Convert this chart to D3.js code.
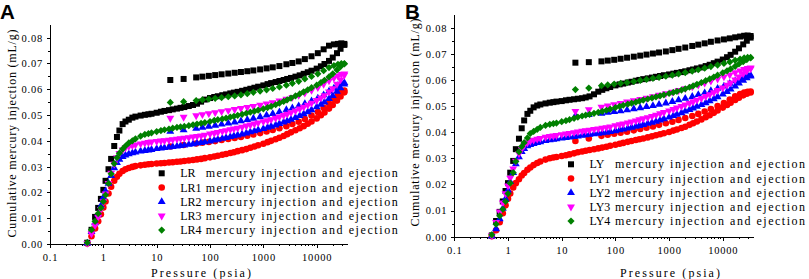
<!DOCTYPE html>
<html>
<head>
<meta charset="utf-8">
<title>Cumulative mercury injection</title>
<script src="https://cdn.jsdelivr.net/npm/d3@7/dist/d3.min.js"></script>
<style>
  body { margin: 0; background: #fff; }
  svg { display: block; }
  .axis path, .axis line { stroke: #000; stroke-width: 1; shape-rendering: crispEdges; }
  .axis text { font-family: "Liberation Serif", "DejaVu Serif", serif; font-size: 10.5px; letter-spacing: 0.8px; fill: #000; }
  .title { font-family: "Liberation Serif", "DejaVu Serif", serif; font-size: 12px; fill: #000; }
  .legend text { font-family: "Liberation Serif", "DejaVu Serif", serif; font-size: 12px; fill: #000; }
  .panel-label { font-family: "Liberation Sans", Arial, sans-serif; font-weight: bold; font-size: 20.5px; fill: #000; }
</style>
</head>
<body>
<script>
// pressure steps (psia) shared by all samples
var pInj = [0.5, 0.6, 0.7, 0.8, 0.9, 1.0, 1.1, 1.25, 1.4, 1.6,
            1.8, 2.0, 2.3, 2.6, 3.0, 3.5, 4, 5, 6, 7,
            8, 10, 12, 14, 17, 20, 24, 28, 33, 40,
            48, 57, 68, 80, 100, 120, 140, 170, 200, 240,
            280, 330, 400, 480, 570, 680, 800, 1000, 1200, 1400,
            1700, 2000, 2400, 2800, 3300, 4000, 4800, 5700, 6800, 8000,
            10000, 12000, 14000, 17000, 20000, 24000, 28000, 33000];
var pEj = [33000, 29000, 25000, 21000, 17000, 13500, 10500, 8000, 6000, 4600,
           3500, 2700, 2000, 1500, 1150, 870, 650, 500, 380, 290,
           220, 165, 125, 95, 72, 55, 32, 18];

// panel A - injection (mL/g)
var injLR = [0.0005, 0.0055, 0.0105, 0.0140, 0.0175, 0.0210, 0.0245, 0.0290, 0.0330, 0.0380,
             0.0415, 0.0440, 0.0465, 0.0475, 0.0482, 0.0490, 0.0494, 0.0498, 0.0501, 0.0503,
             0.0505, 0.0509, 0.0513, 0.0516, 0.0519, 0.0522, 0.0525, 0.0528, 0.0531, 0.0535,
             0.0539, 0.0544, 0.0552, 0.0560, 0.0566, 0.0570, 0.0573, 0.0577, 0.0580, 0.0584,
             0.0587, 0.0590, 0.0594, 0.0598, 0.0602, 0.0606, 0.0610, 0.0615, 0.0620, 0.0624,
             0.0628, 0.0632, 0.0636, 0.0640, 0.0644, 0.0649, 0.0654, 0.0660, 0.0666, 0.0672,
             0.0680, 0.0689, 0.0698, 0.0710, 0.0723, 0.0740, 0.0757, 0.0772];
var injLR1 = [0.0002, 0.0030, 0.0060, 0.0088, 0.0115, 0.0142, 0.0165, 0.0196, 0.0222, 0.0245,
              0.0261, 0.0272, 0.0283, 0.0290, 0.0295, 0.0299, 0.0302, 0.0305, 0.0307, 0.0309,
              0.0310, 0.0312, 0.0313, 0.0314, 0.0316, 0.0317, 0.0319, 0.0320, 0.0322, 0.0324,
              0.0326, 0.0328, 0.0330, 0.0333, 0.0336, 0.0339, 0.0342, 0.0346, 0.0349, 0.0353,
              0.0356, 0.0360, 0.0364, 0.0368, 0.0373, 0.0378, 0.0383, 0.0389, 0.0395, 0.0400,
              0.0406, 0.0412, 0.0419, 0.0426, 0.0433, 0.0441, 0.0449, 0.0457, 0.0466, 0.0475,
              0.0487, 0.0499, 0.0510, 0.0525, 0.0539, 0.0556, 0.0572, 0.0588];
var injLR2 = [0.0003, 0.0048, 0.0082, 0.0115, 0.0148, 0.0180, 0.0205, 0.0235, 0.0265, 0.0295,
              0.0315, 0.0328, 0.0338, 0.0344, 0.0349, 0.0353, 0.0356, 0.0360, 0.0362, 0.0364,
              0.0366, 0.0369, 0.0371, 0.0373, 0.0375, 0.0377, 0.0379, 0.0381, 0.0383, 0.0386,
              0.0388, 0.0391, 0.0393, 0.0396, 0.0399, 0.0402, 0.0405, 0.0409, 0.0412, 0.0416,
              0.0419, 0.0422, 0.0426, 0.0430, 0.0434, 0.0438, 0.0442, 0.0447, 0.0452, 0.0456,
              0.0461, 0.0466, 0.0472, 0.0477, 0.0483, 0.0490, 0.0497, 0.0504, 0.0512, 0.0520,
              0.0531, 0.0541, 0.0550, 0.0563, 0.0575, 0.0591, 0.0605, 0.0620];
var injLR3 = [0.0003, 0.0040, 0.0072, 0.0105, 0.0135, 0.0165, 0.0195, 0.0235, 0.0275, 0.0310,
              0.0335, 0.0352, 0.0365, 0.0373, 0.0378, 0.0382, 0.0385, 0.0389, 0.0392, 0.0394,
              0.0396, 0.0398, 0.0400, 0.0401, 0.0403, 0.0405, 0.0407, 0.0409, 0.0411, 0.0413,
              0.0416, 0.0418, 0.0420, 0.0423, 0.0427, 0.0430, 0.0433, 0.0437, 0.0440, 0.0444,
              0.0447, 0.0450, 0.0454, 0.0458, 0.0462, 0.0466, 0.0470, 0.0475, 0.0479, 0.0483,
              0.0488, 0.0493, 0.0499, 0.0504, 0.0510, 0.0517, 0.0524, 0.0531, 0.0539, 0.0547,
              0.0557, 0.0567, 0.0576, 0.0590, 0.0603, 0.0620, 0.0637, 0.0655];
var injLR4 = [0.0005, 0.0055, 0.0088, 0.0118, 0.0140, 0.0165, 0.0190, 0.0235, 0.0272, 0.0312,
              0.0335, 0.0352, 0.0368, 0.0380, 0.0392, 0.0400, 0.0408, 0.0418, 0.0425, 0.0428,
              0.0431, 0.0436, 0.0440, 0.0443, 0.0446, 0.0449, 0.0452, 0.0454, 0.0456, 0.0459,
              0.0462, 0.0465, 0.0468, 0.0471, 0.0475, 0.0479, 0.0482, 0.0485, 0.0488, 0.0492,
              0.0495, 0.0499, 0.0503, 0.0507, 0.0511, 0.0515, 0.0519, 0.0524, 0.0529, 0.0534,
              0.0540, 0.0546, 0.0553, 0.0559, 0.0566, 0.0574, 0.0582, 0.0590, 0.0598, 0.0606,
              0.0616, 0.0626, 0.0635, 0.0648, 0.0660, 0.0675, 0.0688, 0.0698];

// panel A - ejection (mL/g), high pressure first
var ejLR = [0.0776, 0.0778, 0.0776, 0.0774, 0.0769, 0.0755, 0.0740, 0.0728, 0.0717, 0.0708,
            0.0702, 0.0697, 0.0690, 0.0685, 0.0681, 0.0677, 0.0673, 0.0670, 0.0667, 0.0664,
            0.0661, 0.0658, 0.0655, 0.0652, 0.0649, 0.0646, 0.0640, 0.0636];
var ejLR1 = [0.0595, 0.0590, 0.0578, 0.0562, 0.0545, 0.0528, 0.0512, 0.0498, 0.0485, 0.0474,
             0.0465, 0.0457, 0.0449, 0.0442, 0.0436, 0.0430, 0.0425, 0.0420, 0.0415, 0.0411,
             0.0407, 0.0403, 0.0399, 0.0396, 0.0393, 0.0390, 0.0384, 0.0378];
var ejLR2 = [0.0625, 0.0622, 0.0614, 0.0604, 0.0592, 0.0578, 0.0565, 0.0554, 0.0544, 0.0535,
             0.0527, 0.0520, 0.0512, 0.0505, 0.0499, 0.0493, 0.0487, 0.0482, 0.0477, 0.0472,
             0.0468, 0.0464, 0.0460, 0.0456, 0.0452, 0.0448, 0.0442, 0.0436];
var ejLR3 = [0.0660, 0.0658, 0.0652, 0.0644, 0.0633, 0.0620, 0.0607, 0.0596, 0.0586, 0.0577,
             0.0569, 0.0562, 0.0555, 0.0549, 0.0544, 0.0539, 0.0534, 0.0530, 0.0526, 0.0522,
             0.0518, 0.0514, 0.0510, 0.0506, 0.0502, 0.0498, 0.0492, 0.0488];
var ejLR4 = [0.0700, 0.0700, 0.0697, 0.0692, 0.0684, 0.0672, 0.0660, 0.0650, 0.0640, 0.0631,
             0.0623, 0.0616, 0.0609, 0.0603, 0.0598, 0.0593, 0.0588, 0.0583, 0.0578, 0.0574,
             0.0571, 0.0568, 0.0565, 0.0562, 0.0559, 0.0556, 0.0552, 0.0549];

// panel B - injection (mL/g)
var injLY = [0.0005, 0.0060, 0.0095, 0.0135, 0.0175, 0.0205, 0.0245, 0.0290, 0.0335, 0.0375,
             0.0415, 0.0445, 0.0470, 0.0482, 0.0495, 0.0502, 0.0506, 0.0510, 0.0513, 0.0515,
             0.0517, 0.0519, 0.0522, 0.0524, 0.0526, 0.0528, 0.0530, 0.0533, 0.0537, 0.0545,
             0.0555, 0.0562, 0.0568, 0.0573, 0.0579, 0.0583, 0.0586, 0.0590, 0.0593, 0.0597,
             0.0600, 0.0603, 0.0606, 0.0609, 0.0612, 0.0615, 0.0618, 0.0621, 0.0624, 0.0627,
             0.0630, 0.0633, 0.0637, 0.0640, 0.0644, 0.0648, 0.0653, 0.0658, 0.0664, 0.0670,
             0.0678, 0.0687, 0.0696, 0.0708, 0.0721, 0.0736, 0.0750, 0.0762];
var injLY1 = [0.0002, 0.0025, 0.0055, 0.0090, 0.0120, 0.0145, 0.0165, 0.0188, 0.0205, 0.0220,
              0.0234, 0.0244, 0.0256, 0.0265, 0.0274, 0.0282, 0.0288, 0.0295, 0.0300, 0.0303,
              0.0305, 0.0309, 0.0312, 0.0315, 0.0319, 0.0323, 0.0326, 0.0329, 0.0332, 0.0335,
              0.0338, 0.0341, 0.0344, 0.0348, 0.0352, 0.0356, 0.0359, 0.0363, 0.0366, 0.0370,
              0.0373, 0.0376, 0.0380, 0.0384, 0.0388, 0.0392, 0.0396, 0.0401, 0.0406, 0.0410,
              0.0416, 0.0421, 0.0428, 0.0434, 0.0441, 0.0449, 0.0457, 0.0465, 0.0474, 0.0483,
              0.0494, 0.0504, 0.0513, 0.0523, 0.0532, 0.0541, 0.0547, 0.0552];
var injLY2 = [0.0002, 0.0030, 0.0068, 0.0108, 0.0145, 0.0178, 0.0210, 0.0245, 0.0278, 0.0305,
              0.0325, 0.0337, 0.0347, 0.0352, 0.0356, 0.0360, 0.0363, 0.0367, 0.0370, 0.0372,
              0.0374, 0.0377, 0.0379, 0.0381, 0.0383, 0.0385, 0.0387, 0.0389, 0.0391, 0.0393,
              0.0395, 0.0397, 0.0399, 0.0402, 0.0405, 0.0408, 0.0411, 0.0415, 0.0418, 0.0422,
              0.0425, 0.0429, 0.0433, 0.0437, 0.0441, 0.0446, 0.0451, 0.0457, 0.0463, 0.0468,
              0.0474, 0.0480, 0.0486, 0.0492, 0.0498, 0.0505, 0.0512, 0.0519, 0.0527, 0.0535,
              0.0545, 0.0555, 0.0564, 0.0576, 0.0587, 0.0598, 0.0607, 0.0614];
var injLY3 = [0.0004, 0.0055, 0.0095, 0.0130, 0.0165, 0.0195, 0.0225, 0.0260, 0.0290, 0.0318,
              0.0336, 0.0350, 0.0360, 0.0366, 0.0370, 0.0374, 0.0377, 0.0381, 0.0384, 0.0386,
              0.0388, 0.0391, 0.0394, 0.0396, 0.0399, 0.0402, 0.0404, 0.0406, 0.0408, 0.0411,
              0.0413, 0.0416, 0.0418, 0.0421, 0.0425, 0.0429, 0.0432, 0.0436, 0.0440, 0.0444,
              0.0448, 0.0452, 0.0456, 0.0461, 0.0466, 0.0471, 0.0476, 0.0482, 0.0488, 0.0493,
              0.0499, 0.0505, 0.0511, 0.0517, 0.0523, 0.0530, 0.0537, 0.0544, 0.0552, 0.0560,
              0.0570, 0.0580, 0.0589, 0.0601, 0.0612, 0.0624, 0.0634, 0.0643];
var injLY4 = [0.0007, 0.0048, 0.0080, 0.0105, 0.0135, 0.0165, 0.0205, 0.0245, 0.0288, 0.0325,
              0.0345, 0.0360, 0.0378, 0.0395, 0.0403, 0.0411, 0.0418, 0.0426, 0.0430, 0.0433,
              0.0435, 0.0440, 0.0444, 0.0448, 0.0453, 0.0458, 0.0462, 0.0465, 0.0468, 0.0472,
              0.0476, 0.0480, 0.0484, 0.0488, 0.0494, 0.0499, 0.0503, 0.0507, 0.0511, 0.0515,
              0.0519, 0.0523, 0.0527, 0.0531, 0.0535, 0.0539, 0.0543, 0.0548, 0.0552, 0.0556,
              0.0561, 0.0566, 0.0572, 0.0577, 0.0583, 0.0590, 0.0597, 0.0604, 0.0611, 0.0618,
              0.0627, 0.0635, 0.0642, 0.0652, 0.0661, 0.0670, 0.0678, 0.0684];

// panel B - ejection (mL/g), high pressure first
var ejLY = [0.0768, 0.0770, 0.0769, 0.0766, 0.0763, 0.0759, 0.0755, 0.0751, 0.0746, 0.0740,
            0.0735, 0.0730, 0.0724, 0.0719, 0.0714, 0.0709, 0.0705, 0.0701, 0.0697, 0.0693,
            0.0689, 0.0685, 0.0681, 0.0677, 0.0674, 0.0671, 0.0668, 0.0666];
var ejLY1 = [0.0556, 0.0555, 0.0552, 0.0546, 0.0537, 0.0525, 0.0512, 0.0500, 0.0489, 0.0479,
             0.0470, 0.0462, 0.0454, 0.0447, 0.0440, 0.0434, 0.0428, 0.0422, 0.0417, 0.0412,
             0.0407, 0.0402, 0.0398, 0.0394, 0.0390, 0.0386, 0.0376, 0.0366];
var ejLY2 = [0.0618, 0.0617, 0.0612, 0.0605, 0.0596, 0.0586, 0.0576, 0.0567, 0.0558, 0.0550,
             0.0543, 0.0536, 0.0529, 0.0523, 0.0517, 0.0511, 0.0506, 0.0501, 0.0497, 0.0493,
             0.0489, 0.0485, 0.0481, 0.0478, 0.0475, 0.0472, 0.0467, 0.0463];
var ejLY3 = [0.0646, 0.0645, 0.0641, 0.0635, 0.0628, 0.0620, 0.0612, 0.0604, 0.0596, 0.0588,
             0.0581, 0.0574, 0.0567, 0.0560, 0.0554, 0.0548, 0.0542, 0.0536, 0.0531, 0.0526,
             0.0521, 0.0516, 0.0511, 0.0506, 0.0501, 0.0496, 0.0487, 0.0480];
var ejLY4 = [0.0686, 0.0686, 0.0684, 0.0680, 0.0675, 0.0669, 0.0663, 0.0657, 0.0651, 0.0645,
             0.0639, 0.0634, 0.0628, 0.0623, 0.0618, 0.0614, 0.0610, 0.0606, 0.0602, 0.0598,
             0.0594, 0.0590, 0.0587, 0.0584, 0.0581, 0.0578, 0.0569, 0.0563];

var namesA = ["LR", "LR1", "LR2", "LR3", "LR4"];
var namesB = ["LY", "LY1", "LY2", "LY3", "LY4"];
var legendSuffix = "mercury injection and ejection";
var yTicks = [0, 0.01, 0.02, 0.03, 0.04, 0.05, 0.06, 0.07, 0.08];
var xTicks = [0.1, 1, 10, 100, 1000, 10000];

var colors = ["#000000", "#ff0000", "#0000ff", "#ff00ff", "#008000"];

var svg = d3.select("body").append("svg")
        .attr("width", 809)
        .attr("height", 279);

// square, circle, up triangle, down triangle, diamond
function markerPath(i) {
    if (i === 0) return d3.symbol().type(d3.symbolSquare).size(36)();
    if (i === 1) return d3.symbol().type(d3.symbolCircle).size(34)();
    if (i === 2 || i === 3) return d3.symbol().type(d3.symbolTriangle).size(27)();
    return d3.symbol().type(d3.symbolSquare).size(26)();
}
function markerRotate(i) {
    if (i === 3) return " rotate(180)";
    if (i === 4) return " rotate(45)";
    return "";
}

function drawPanel(cfg) {
    var x = d3.scaleLog().domain([0.1, 37000]).range([cfg.left, cfg.right]);
    var y = d3.scaleLinear().domain([0, 0.085]).range([cfg.bottom, cfg.top]);

    // minor ticks first, then the main axes over them
    var xMinor = [];
    [0.1, 1, 10, 100, 1000, 10000].forEach(function (d) {
        for (var k = 2; k <= 9; k++) if (d * k < 37000) xMinor.push(d * k);
    });
    svg.append("g").attr("class", "axis")
        .attr("transform", "translate(0," + cfg.bottom + ")")
        .call(d3.axisBottom(x).tickValues(xMinor).tickSize(2).tickFormat(""))
        .select(".domain").remove();
    svg.append("g").attr("class", "axis")
        .attr("transform", "translate(" + cfg.left + ",0)")
        .call(d3.axisLeft(y).tickValues(d3.range(0.005, 0.08, 0.01)).tickSize(2).tickFormat(""))
        .select(".domain").remove();

    svg.append("g").attr("class", "axis")
        .attr("transform", "translate(0," + cfg.bottom + ")")
        .call(d3.axisBottom(x).tickValues(xTicks).tickSize(4).tickSizeOuter(0)
            .tickPadding(cfg.xPad).tickFormat(d3.format("~g")));
    svg.append("g").attr("class", "axis")
        .attr("transform", "translate(" + cfg.left + ",0)")
        .call(d3.axisLeft(y).tickValues(yTicks).tickSize(3).tickSizeOuter(0)
            .tickPadding(4).tickFormat(d3.format(".2f")));

    // points: injection then ejection for each sample
    cfg.inj.forEach(function (vals, i) {
        var g = svg.append("g").attr("fill", colors[i]);
        var pts = pInj.map(function (p, j) { return [p, vals[j]]; })
            .concat(pEj.map(function (p, j) { return [p, cfg.ej[i][j]]; }));
        g.selectAll("path").data(pts).enter().append("path")
            .attr("d", markerPath(i))
            .attr("transform", function (d) {
                return "translate(" + x(d[0]) + "," + y(d[1]) + ")" + markerRotate(i);
            });
    });

    // legend: sample name + description in two aligned columns
    var lg = svg.append("g").attr("class", "legend");
    cfg.names.forEach(function (n, i) {
        var ly = cfg.legendY + i * 14.2;
        lg.append("path")
            .attr("d", markerPath(i))
            .attr("fill", colors[i])
            .attr("transform", "translate(" + cfg.legendX + "," + ly + ")" + markerRotate(i));
        lg.append("text")
            .attr("x", cfg.legendX + 18.5)
            .attr("y", ly + 4)
            .text(n);
        lg.append("text")
            .attr("x", cfg.legendX + 44)
            .attr("y", ly + 4)
            .attr("textLength", cfg.legendLen).attr("lengthAdjust", "spacing")
            .text(legendSuffix);
    });

    // axis titles
    svg.append("text").attr("class", "title")
        .attr("x", cfg.xTitleX).attr("y", 277)
        .attr("text-anchor", "middle")
        .attr("textLength", 100).attr("lengthAdjust", "spacing")
        .text("Pressure (psia)");
    svg.append("text").attr("class", "title")
        .attr("transform", "translate(" + cfg.yTitleX + "," + cfg.yTitleY + ") rotate(-90)")
        .attr("text-anchor", "middle")
        .attr("dy", "0.35em")
        .attr("textLength", 208).attr("lengthAdjust", "spacing")
        .text("Cumulative mercury injection (mL/g)");

    svg.append("text").attr("class", "panel-label")
        .attr("x", cfg.labelX).attr("y", 19)
        .text(cfg.label);
}

drawPanel({
    left: 50, right: 347, top: 24.8, bottom: 244, xPad: 6,
    inj: [injLR, injLR1, injLR2, injLR3, injLR4],
    ej: [ejLR, ejLR1, ejLR2, ejLR3, ejLR4],
    names: namesA, legendX: 161.7, legendY: 173.3, legendLen: 192,
    xTitleX: 201, yTitleX: 12, yTitleY: 133.5,
    label: "A", labelX: 0
});

drawPanel({
    left: 454.3, right: 753.3, top: 14.6, bottom: 236.7, xPad: 5.5,
    inj: [injLY, injLY1, injLY2, injLY3, injLY4],
    ej: [ejLY, ejLY1, ejLY2, ejLY3, ejLY4],
    names: namesB, legendX: 571, legendY: 164.3, legendLen: 190,
    xTitleX: 670, yTitleX: 415, yTitleY: 122.5,
    label: "B", labelX: 405
});
</script>
</body>
</html>
